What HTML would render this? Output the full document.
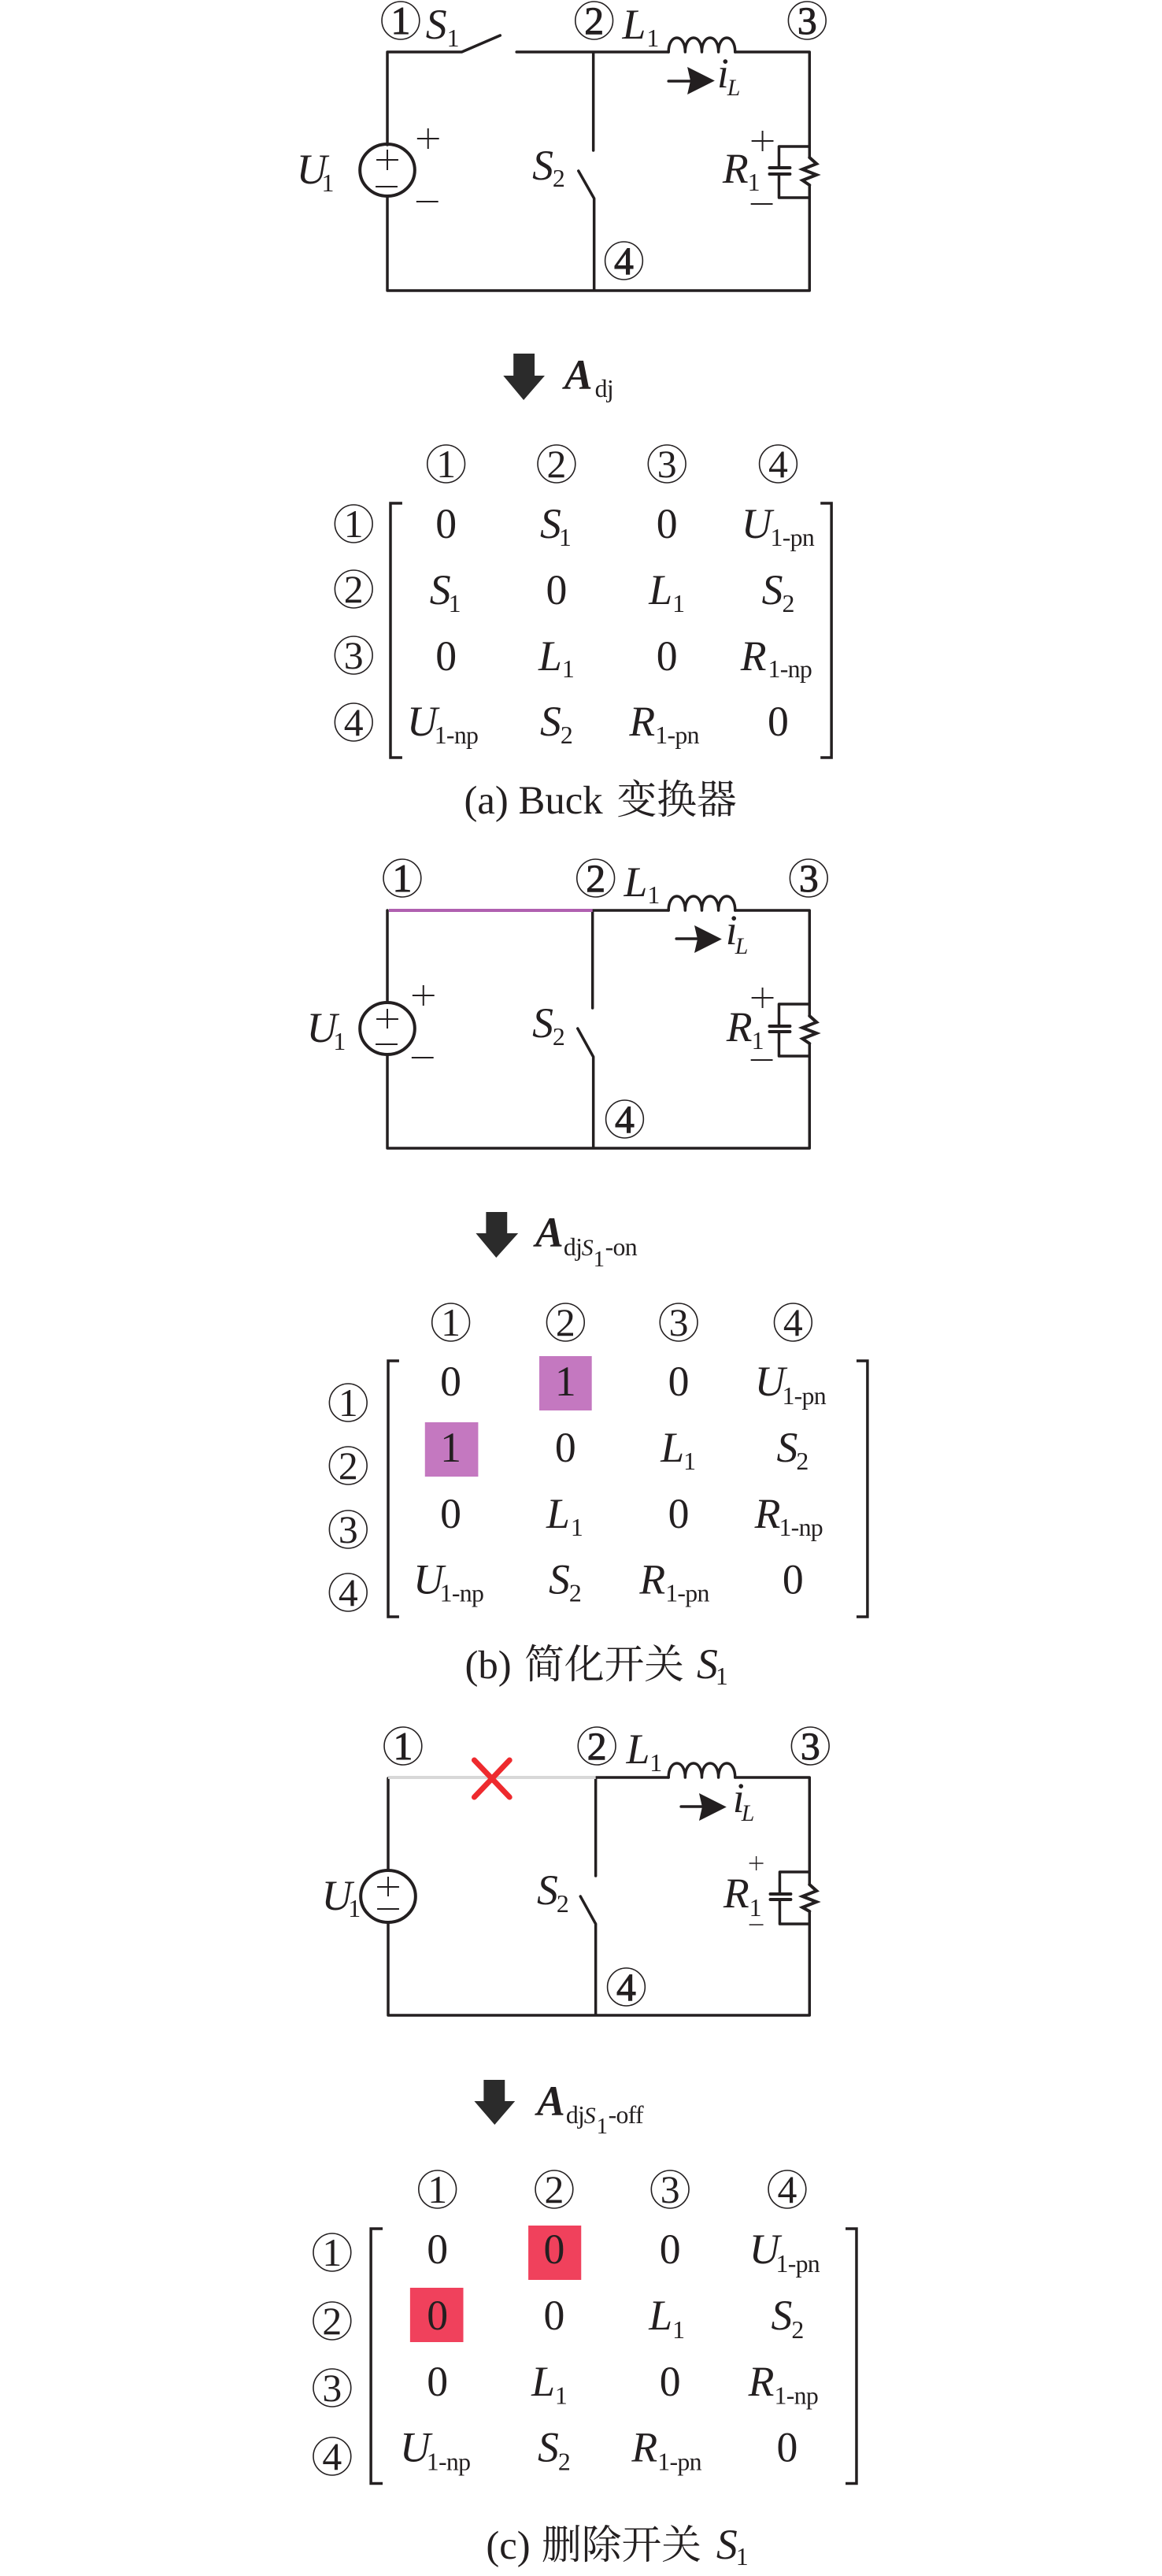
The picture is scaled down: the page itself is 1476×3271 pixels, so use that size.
<!DOCTYPE html>
<html><head><meta charset="utf-8"><style>
html,body{margin:0;padding:0;background:#fff}
svg{display:block}
text{font-family:"Liberation Serif","Noto Serif CJK SC",serif;fill:#231f20}
.m{font-size:54px;font-style:italic}
.n{font-size:51px}
.z{font-size:54px;text-anchor:middle}
.s{font-size:32px;letter-spacing:-.7px}
.i{font-size:30px;font-style:italic}
.c{font-size:50px;text-anchor:middle}
.b{font-size:50px;text-anchor:middle;stroke:#231f20;stroke-width:1px}
.a{font-size:54px;font-style:italic;font-weight:bold}
.w{fill:none;stroke:#231f20;stroke-width:3.5;stroke-linecap:round;stroke-linejoin:round}
.q{fill:none;stroke:#231f20;stroke-width:4;stroke-linecap:round;stroke-linejoin:miter}
.t{fill:none;stroke:#231f20;stroke-width:2}
.e{fill:none;stroke:#231f20;stroke-width:1.6}
.h{fill:none;stroke:#231f20;stroke-width:3.5}
</style></head><body>
<svg xmlns="http://www.w3.org/2000/svg" width="1476" height="3271" viewBox="0 0 1476 3271">
<rect width="1476" height="3271" fill="#fff"/>
<g transform="translate(1.53 0) scale(.9949 1)">

<!-- PANEL A circuit -->
<path class="w" d="M637 45L588 66H493V184M493 250V369H1032V235M1032 200V66H937M852 66H658M756 66V191M737 217L757 252V369"/>
<path class="w" stroke-width="3" d="M852 66c0-24 21.250-24 21.250 0c0-24 21.250-24 21.250 0c0-24 21.250-24 21.250 0c0-24 21.250-24 21.250 0"/>
<ellipse class="q" cx="493" cy="216" rx="35" ry="33"/>
<path class="t" d="M479 203h28M493 190v26M478 237h28M531 176h28M545 163v26M530 256h28M958 179h28M972 166v26M957 259h28"/>
<path class="w" d="M1032 186H993V213M993 221V251H1032"/>
<path class="q" d="M981 213H1007M981 221H1007"/>
<path class="q" d="M1032 200L1041 208L1023 215L1041 222L1023 229L1032 235"/>
<path class="w" d="M852 103H880"/><polygon points="876,85 911,102.500 876,120 880,102.500" fill="#231f20"/>
<ellipse class="e" cx="510" cy="26" rx="24" ry="24"/><text class="b" x="510" y="43">1</text>
<ellipse class="e" cx="757" cy="26" rx="24" ry="24"/><text class="b" x="757" y="43">2</text>
<ellipse class="e" cx="1029" cy="26" rx="24" ry="24"/><text class="b" x="1029" y="43">3</text>
<ellipse class="e" cx="795" cy="331" rx="24" ry="24"/><text class="b" x="795" y="348">4</text>
<text class="m" x="542" y="49">S</text><text class="s" x="569" y="59">1</text>
<text class="m" x="793" y="49">L</text><text class="s" x="824" y="59">1</text>
<text class="m" x="377" y="233">U</text><text class="s" x="409" y="243">1</text>
<text class="m" x="678" y="228">S</text><text class="s" x="704" y="237">2</text>
<text class="m" x="921" y="232">R</text><text class="s" x="953" y="242">1</text>
<text class="m" x="914" y="111">i</text><text class="i" x="927" y="121">L</text>
<polygon points="654,449 681,449 681,477 694,477 667,508 641,477 654,477" fill="#2b2b2b"/>
<text class="a" x="719" y="494">A</text><text class="s" x="758" y="504">dj</text>

<!-- MATRIX A -->
<path class="h" d="M512 639H497V962H512M1046 639H1060V962H1046"/>
<ellipse class="e" cx="568" cy="589" rx="24" ry="24"/><text class="c" x="568" y="606">1</text>
<ellipse class="e" cx="709" cy="589" rx="24" ry="24"/><text class="c" x="709" y="606">2</text>
<ellipse class="e" cx="850" cy="589" rx="24" ry="24"/><text class="c" x="850" y="606">3</text>
<ellipse class="e" cx="992" cy="589" rx="24" ry="24"/><text class="c" x="992" y="606">4</text>
<ellipse class="e" cx="450" cy="665" rx="24" ry="24"/><text class="c" x="450" y="682">1</text>
<ellipse class="e" cx="450" cy="748" rx="24" ry="24"/><text class="c" x="450" y="765">2</text>
<ellipse class="e" cx="450" cy="832" rx="24" ry="24"/><text class="c" x="450" y="849">3</text>
<ellipse class="e" cx="450" cy="917" rx="24" ry="24"/><text class="c" x="450" y="934">4</text>
<text class="z" x="568" y="683">0</text>
<text class="m" x="688" y="683">S</text><text class="s" x="712" y="693">1</text>
<text class="z" x="850" y="683">0</text>
<text class="m" x="945" y="683">U</text><text class="s" x="982" y="693">1-pn</text>
<text class="m" x="547" y="767">S</text><text class="s" x="571" y="777">1</text>
<text class="z" x="709" y="767">0</text>
<text class="m" x="827" y="767">L</text><text class="s" x="857" y="777">1</text>
<text class="m" x="971" y="767">S</text><text class="s" x="997" y="777">2</text>
<text class="z" x="568" y="851">0</text>
<text class="m" x="686" y="851">L</text><text class="s" x="716" y="860">1</text>
<text class="z" x="850" y="851">0</text>
<text class="m" x="944" y="851">R</text><text class="s" x="979" y="860">1-np</text>
<text class="m" x="518" y="934">U</text><text class="s" x="553" y="944">1-np</text>
<text class="m" x="688" y="934">S</text><text class="s" x="714" y="944">2</text>
<text class="m" x="802" y="934">R</text><text class="s" x="835" y="944">1-pn</text>
<text class="z" x="992" y="934">0</text>
<text class="n" x="591" y="1033">(a) Buck</text>
<text class="n" x="786" y="1033">变换器</text>

<!-- PANEL B circuit -->
<path class="w" d="M493 1156V1273M493 1339V1458H1032V1325M1032 1290V1156H937M852 1156H755V1280M736 1306L756 1342V1458"/>
<path d="M495 1156H755" stroke="#b060b0" stroke-width="4" fill="none"/>
<path class="w" stroke-width="3" d="M852 1156c0-24 21.250-24 21.250 0c0-24 21.250-24 21.250 0c0-24 21.250-24 21.250 0c0-24 21.250-24 21.250 0"/>
<ellipse class="q" cx="493" cy="1306" rx="35" ry="33"/>
<path class="t" d="M479 1294h28M493 1281v25M478 1326h28M525 1264h28M539 1251v26M524 1343h28M958 1267h28M972 1254v26M957 1346h28"/>
<path class="w" d="M1032 1275H993V1303M993 1310V1341H1032"/>
<path class="q" d="M981 1303H1007M981 1310H1007"/>
<path class="q" d="M1032 1290L1041 1298L1023 1305L1041 1312L1023 1319L1032 1325"/>
<path class="w" d="M862 1192H890"/><polygon points="885,1175 920,1192.500 885,1210 889,1192.500" fill="#231f20"/>
<ellipse class="e" cx="512" cy="1115" rx="24" ry="24"/><text class="b" x="512" y="1132">1</text>
<ellipse class="e" cx="759" cy="1115" rx="24" ry="24"/><text class="b" x="759" y="1132">2</text>
<ellipse class="e" cx="1031" cy="1115" rx="24" ry="24"/><text class="b" x="1031" y="1132">3</text>
<ellipse class="e" cx="796" cy="1421" rx="24" ry="24"/><text class="b" x="796" y="1438">4</text>
<text class="m" x="795" y="1138">L</text><text class="s" x="825" y="1147">1</text>
<text class="m" x="390" y="1323">U</text><text class="s" x="424" y="1333">1</text>
<text class="m" x="678" y="1317">S</text><text class="s" x="704" y="1327">2</text>
<text class="m" x="926" y="1322">R</text><text class="s" x="958" y="1332">1</text>
<text class="m" x="925" y="1199">i</text><text class="i" x="937" y="1211">L</text>
<polygon points="619,1539 646,1539 646,1566 660,1566 632,1597 606,1566 619,1566" fill="#2b2b2b"/>
<text class="a" x="682" y="1583">A</text><text class="s" x="718" y="1594">dj</text><text class="i" x="741" y="1594">S</text><text class="s" x="756" y="1608" style="font-size:29px">1</text><text class="s" x="771" y="1594">-on</text>

<!-- MATRIX B -->
<rect x="687" y="1722" width="67" height="69" fill="#c478c0"/>
<rect x="541" y="1806" width="68" height="69" fill="#c478c0"/>
<path class="h" d="M508 1728H494V2053H508M1092 1728H1106V2053H1092"/>
<ellipse class="e" cx="574" cy="1679" rx="24" ry="24"/><text class="c" x="574" y="1696">1</text>
<ellipse class="e" cx="720.500" cy="1679" rx="24" ry="24"/><text class="c" x="720.500" y="1696">2</text>
<ellipse class="e" cx="865" cy="1679" rx="24" ry="24"/><text class="c" x="865" y="1696">3</text>
<ellipse class="e" cx="1011" cy="1679" rx="24" ry="24"/><text class="c" x="1011" y="1696">4</text>
<ellipse class="e" cx="443" cy="1781" rx="24" ry="24"/><text class="c" x="443" y="1798">1</text>
<ellipse class="e" cx="443" cy="1861" rx="24" ry="24"/><text class="c" x="443" y="1878">2</text>
<ellipse class="e" cx="443" cy="1942" rx="24" ry="24"/><text class="c" x="443" y="1959">3</text>
<ellipse class="e" cx="443" cy="2022" rx="24" ry="24"/><text class="c" x="443" y="2039">4</text>
<text class="z" x="574" y="1772">0</text>
<text class="z" x="720.500" y="1772">1</text>
<text class="z" x="865" y="1772">0</text>
<text class="m" x="962" y="1772">U</text><text class="s" x="997" y="1783">1-pn</text>
<text class="z" x="574" y="1856">1</text>
<text class="z" x="720.500" y="1856">0</text>
<text class="m" x="842" y="1856">L</text><text class="s" x="871" y="1866">1</text>
<text class="m" x="990" y="1856">S</text><text class="s" x="1015" y="1866">2</text>
<text class="z" x="574" y="1940">0</text>
<text class="m" x="696" y="1940">L</text><text class="s" x="727" y="1950">1</text>
<text class="z" x="865" y="1940">0</text>
<text class="m" x="962" y="1940">R</text><text class="s" x="993" y="1950">1-np</text>
<text class="m" x="526" y="2023.500">U</text><text class="s" x="560" y="2033.500">1-np</text>
<text class="m" x="699" y="2023.500">S</text><text class="s" x="725" y="2033.500">2</text>
<text class="m" x="815" y="2023.500">R</text><text class="s" x="848" y="2033.500">1-pn</text>
<text class="z" x="1011" y="2023.500">0</text>
<text class="n" x="592" y="2131">(b)</text>
<text class="n" x="668" y="2131">简化开关</text>
<text class="m" x="888" y="2131">S</text><text class="s" x="912" y="2139">1</text>

<!-- PANEL C circuit -->
<path class="w" d="M494 2258V2375M494 2441V2559H1032V2427M1032 2393V2257H937M852 2257H759V2382M739.500 2408L759 2443V2559"/>
<path d="M494 2257H759" stroke="#d8d8d8" stroke-width="4" fill="none"/>
<path class="w" stroke-width="3" d="M852 2257c0-24 21.250-24 21.250 0c0-24 21.250-24 21.250 0c0-24 21.250-24 21.250 0c0-24 21.250-24 21.250 0"/>
<path d="M604 2235L649 2282M649 2235L604 2282" stroke="#ee2a2e" stroke-width="7" stroke-linecap="round" fill="none"/>
<ellipse class="q" cx="494" cy="2408" rx="35" ry="33"/>
<path class="t" d="M480 2396h28M494 2383v25M480 2424h28"/>
<path d="M955 2366h18M964 2357v18M955 2444h18" stroke="#231f20" stroke-width="1.400" fill="none"/>
<path class="w" d="M1032 2377H994V2405M994 2412V2443H1032"/>
<path class="q" d="M982 2405H1008M982 2412H1008"/>
<path class="q" d="M1032 2393L1041 2401L1023 2408L1041 2415L1023 2422L1032 2427"/>
<path class="w" d="M868 2294H896"/><polygon points="891,2277 926,2294.500 891,2312 895,2294.500" fill="#231f20"/>
<ellipse class="e" cx="513" cy="2217" rx="24" ry="24"/><text class="b" x="513" y="2234">1</text>
<ellipse class="e" cx="760.500" cy="2217" rx="24" ry="24"/><text class="b" x="760.500" y="2234">2</text>
<ellipse class="e" cx="1033" cy="2217" rx="24" ry="24"/><text class="b" x="1033" y="2234">3</text>
<ellipse class="e" cx="798" cy="2523" rx="24" ry="24"/><text class="b" x="798" y="2540">4</text>
<text class="m" x="798" y="2239">L</text><text class="s" x="828" y="2249">1</text>
<text class="m" x="409" y="2425">U</text><text class="s" x="443" y="2434">1</text>
<text class="m" x="684" y="2418">S</text><text class="s" x="709" y="2428">2</text>
<text class="m" x="922" y="2422">R</text><text class="s" x="955" y="2433">1</text>
<text class="m" x="934" y="2301">i</text><text class="i" x="945" y="2312">L</text>
<polygon points="616,2641 643,2641 643,2668 656,2668 630,2698 604,2668 616,2668" fill="#2b2b2b"/>
<text class="a" x="684" y="2686">A</text><text class="s" x="721" y="2696">dj</text><text class="i" x="744" y="2696">S</text><text class="s" x="760" y="2709" style="font-size:29px">1</text><text class="s" x="775" y="2696">-off</text>

<!-- MATRIX C -->
<rect x="673" y="2826" width="67.500" height="69" fill="#f0415c"/>
<rect x="522" y="2905" width="68" height="69" fill="#f0415c"/>
<path class="h" d="M487 2830H472V3153.500H487M1078 2830H1092V3153.500H1078"/>
<ellipse class="e" cx="557" cy="2780" rx="24" ry="24"/><text class="c" x="557" y="2797">1</text>
<ellipse class="e" cx="706" cy="2780" rx="24" ry="24"/><text class="c" x="706" y="2797">2</text>
<ellipse class="e" cx="854" cy="2780" rx="24" ry="24"/><text class="c" x="854" y="2797">3</text>
<ellipse class="e" cx="1003.500" cy="2780" rx="24" ry="24"/><text class="c" x="1003.500" y="2797">4</text>
<ellipse class="e" cx="422.500" cy="2860" rx="24" ry="24"/><text class="c" x="422.500" y="2877">1</text>
<ellipse class="e" cx="422.500" cy="2947" rx="24" ry="24"/><text class="c" x="422.500" y="2964">2</text>
<ellipse class="e" cx="422.500" cy="3032" rx="24" ry="24"/><text class="c" x="422.500" y="3049">3</text>
<ellipse class="e" cx="422.500" cy="3119" rx="24" ry="24"/><text class="c" x="422.500" y="3136">4</text>
<text class="z" x="557" y="2874">0</text>
<text class="z" x="706" y="2874">0</text>
<text class="z" x="854" y="2874">0</text>
<text class="m" x="955" y="2874">U</text><text class="s" x="989" y="2885">1-pn</text>
<text class="z" x="557" y="2958">0</text>
<text class="z" x="706" y="2958">0</text>
<text class="m" x="827" y="2958">L</text><text class="s" x="857" y="2969">1</text>
<text class="m" x="983" y="2958">S</text><text class="s" x="1009" y="2969">2</text>
<text class="z" x="557" y="3042">0</text>
<text class="m" x="677" y="3042">L</text><text class="s" x="707" y="3052.500">1</text>
<text class="z" x="854" y="3042">0</text>
<text class="m" x="954" y="3042">R</text><text class="s" x="987" y="3052.500">1-np</text>
<text class="m" x="509" y="3125.500">U</text><text class="s" x="543" y="3136.500">1-np</text>
<text class="m" x="685" y="3125.500">S</text><text class="s" x="711" y="3136.500">2</text>
<text class="m" x="805" y="3125.500">R</text><text class="s" x="838" y="3136.500">1-pn</text>
<text class="z" x="1003.500" y="3125.500">0</text>
<text class="n" x="619" y="3249">(c)</text>
<text class="n" x="690" y="3249">删除开关</text>
<text class="m" x="913" y="3249">S</text><text class="s" x="938" y="3257">1</text>
</g>
</svg>
</body></html>
